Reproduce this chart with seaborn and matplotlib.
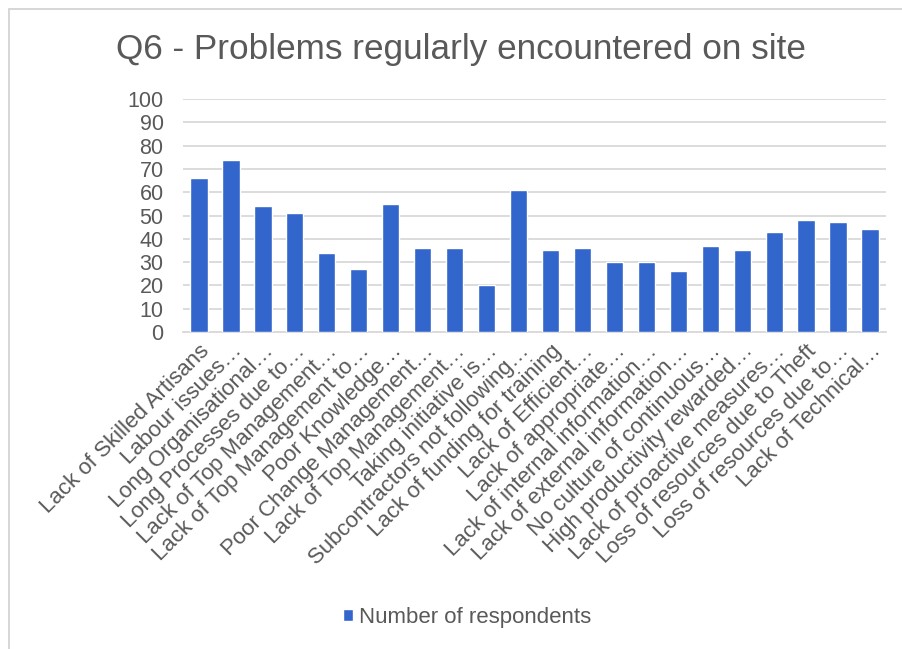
import matplotlib
matplotlib.use("Agg")
import matplotlib.pyplot as plt
from matplotlib.patches import Rectangle
import pandas as pd
import seaborn as sns

title = "Q6 - Problems regularly encountered on site"
series_name = "Number of respondents"

problems = [
    "Lack of Skilled Artisans",
    "Labour issues…",
    "Long Organisational…",
    "Long Processes due to…",
    "Lack of Top Management…",
    "Lack of Top Management to…",
    "Poor Knowledge…",
    "Poor Change Management…",
    "Lack of Top Management…",
    "Taking initiative is…",
    "Subcontractors not following…",
    "Lack of funding for training",
    "Lack of Efficient…",
    "Lack of appropriate…",
    "Lack of internal information…",
    "Lack of external information…",
    "No culture of continuous…",
    "High productivity rewarded…",
    "Lack of proactive measures…",
    "Loss of resources due to Theft",
    "Loss of resources due to…",
    "Lack of Technical…",
]
respondents = [66, 74, 54, 51, 34, 27, 55, 36, 36, 20, 61,
               35, 36, 30, 30, 26, 37, 35, 43, 48, 47, 44]
y_ticks = [0, 10, 20, 30, 40, 50, 60, 70, 80, 90, 100]

BAR = "#3366CC"
GRID = "#D9D9D9"
TEXT = "#595959"

sns.set_theme(style="white")
plt.rcParams["font.family"] = ["Liberation Sans", "DejaVu Sans"]

df = pd.DataFrame({"item": list(range(len(problems))), "respondents": respondents})

fig = plt.figure(figsize=(9.02, 6.49), dpi=100)
W, H = 902, 649

# outer chart border
fig.patches.append(Rectangle((9 / W, -0.01), 1.0, 1 - 9 / H + 0.01,
                             transform=fig.transFigure, fill=False,
                             edgecolor="#D0D0D0", linewidth=1.2))

ax = fig.add_axes([183 / W, (H - 332) / H, 703 / W, 233 / H])
sns.barplot(data=df, x="item", y="respondents", color=BAR, width=0.54,
            saturation=1, ax=ax, label=series_name, zorder=3)

ax.set_ylim(0, 100)
ax.set_xlim(-0.5, len(problems) - 0.5)
ax.set_yticks(y_ticks)
ax.set_yticklabels([str(v) for v in y_ticks], fontsize=15.5, color=TEXT)
ax.set_xticks(range(len(problems)))
ax.set_xticklabels(problems, rotation=45, ha="right", rotation_mode="anchor",
                   fontsize=16, color=TEXT)
ax.tick_params(axis="y", length=0, pad=14)
ax.tick_params(axis="x", length=0, pad=6)
ax.set_xlabel("")
ax.set_ylabel("")

ax.grid(axis="y", color=GRID, linewidth=1.3, zorder=0)
ax.set_axisbelow(True)
for side in ("top", "right", "left"):
    ax.spines[side].set_visible(False)
ax.spines["bottom"].set_color(GRID)
ax.spines["bottom"].set_linewidth(1.3)

fig.text(461 / W, 1 - 49 / H, title, ha="center", va="center",
         fontsize=25.3, color=TEXT)

handles, labels = ax.get_legend_handles_labels()
if ax.get_legend() is not None:
    ax.get_legend().remove()
leg = fig.legend(handles, labels, loc="center", bbox_to_anchor=(467 / W, 1 - 617 / H),
                 frameon=False, fontsize=16, handlelength=0.45, handleheight=0.45,
                 handletextpad=0.3, labelcolor=TEXT)

fig.savefig("out.png", dpi=100, facecolor="white")
